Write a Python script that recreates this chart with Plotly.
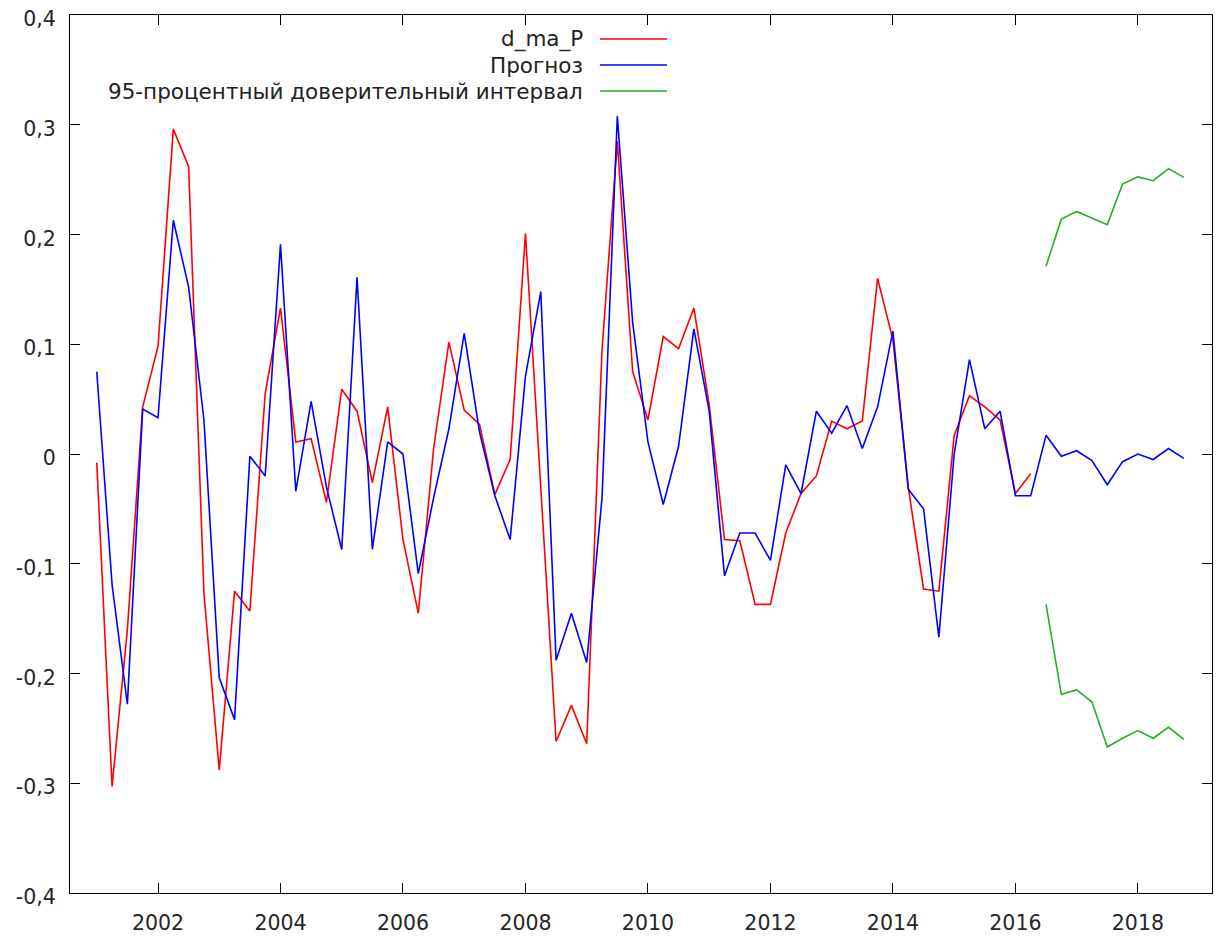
import plotly.graph_objects as go

# ---- data (quarterly, starting 2001:1) ----
start_year = 2001
n_quarters = 72
periods = [start_year + q / 4 for q in range(n_quarters)]

d_ma_P = [
    -0.008, -0.303, -0.160, 0.043, 0.098, 0.296, 0.262, -0.127, -0.288, -0.125, -0.143, 0.055,
    0.133, 0.011, 0.014, -0.044, 0.059, 0.039, -0.026, 0.043, -0.078, -0.145, 0.005, 0.102,
    0.040, 0.027, -0.037, -0.005, 0.201, -0.030, -0.262, -0.229, -0.264, 0.095, 0.285, 0.075,
    0.031, 0.107, 0.096, 0.133, 0.045, -0.078, -0.079, -0.137, -0.137, -0.072, -0.036, -0.020,
    0.030, 0.023, 0.030, 0.160, 0.104, -0.030, -0.123, -0.125, 0.017, 0.053, 0.043, 0.031,
    -0.036, -0.018,
]

prognoz = [
    0.075, -0.119, -0.228, 0.041, 0.033, 0.213, 0.152, 0.031, -0.204, -0.242, -0.002, -0.020,
    0.191, -0.034, 0.048, -0.030, -0.087, 0.161, -0.087, 0.011, 0.000, -0.109, -0.040, 0.023,
    0.110, 0.020, -0.038, -0.078, 0.071, 0.148, -0.188, -0.145, -0.190, -0.040, 0.308, 0.120,
    0.011, -0.046, 0.007, 0.114, 0.039, -0.111, -0.072, -0.072, -0.097, -0.010, -0.036, 0.039,
    0.019, 0.044, 0.005, 0.043, 0.112, -0.032, -0.050, -0.167, 0.000, 0.086, 0.023, 0.039,
    -0.038, -0.038, 0.017, -0.002, 0.003, -0.006, -0.028, -0.007, 0.000, -0.005, 0.005, -0.004,
]

ci_start = 62  # 2016:3
ci_upper = [0.171, 0.214, 0.221, 0.215, 0.209, 0.246, 0.2525, 0.249, 0.260, 0.252]
ci_lower = [-0.137, -0.219, -0.215, -0.226, -0.267, -0.259, -0.252, -0.259, -0.249, -0.260]

y_tickvals = [0.4, 0.3, 0.2, 0.1, 0.0, -0.1, -0.2, -0.3, -0.4]
y_ticktext = ["0,4", "0,3", "0,2", "0,1", "0", "-0,1", "-0,2", "-0,3", "-0,4"]
x_tickvals = [2002, 2004, 2006, 2008, 2010, 2012, 2014, 2016, 2018]
x_ticktext = [str(v) for v in x_tickvals]

legend_names = ["d_ma_P", "Прогноз", "95-процентный доверительный интервал"]

RED = "#ff0000"
BLUE = "#0000ff"
GREEN = "#22b022"
FONT = "DejaVu Sans"

fig = go.Figure()
fig.add_trace(go.Scatter(x=periods[:len(d_ma_P)], y=d_ma_P, mode="lines",
                         line=dict(color=RED, width=1.6), name=legend_names[0], showlegend=False))
fig.add_trace(go.Scatter(x=periods[:len(prognoz)], y=prognoz, mode="lines",
                         line=dict(color=BLUE, width=1.6), name=legend_names[1], showlegend=False))
ci_x = periods[ci_start:ci_start + len(ci_upper)]
fig.add_trace(go.Scatter(x=ci_x, y=ci_upper, mode="lines",
                         line=dict(color=GREEN, width=1.6), name=legend_names[2], showlegend=False))
fig.add_trace(go.Scatter(x=ci_x, y=ci_lower, mode="lines",
                         line=dict(color=GREEN, width=1.6), name=legend_names[2], showlegend=False))

# custom gnuplot-style legend: right-aligned text, sample line to the right
legend_colors = [RED, BLUE, GREEN]
legend_y = [0.9727, 0.943, 0.9134]
for name, col, yy in zip(legend_names, legend_colors, legend_y):
    fig.add_annotation(x=0.451, y=yy, xref="paper", yref="paper", text=name,
                       showarrow=False, xanchor="right", yanchor="middle",
                       font=dict(family=FONT, size=21.5, color="#222222"))
    fig.add_shape(type="line", xref="paper", yref="paper", x0=0.464, x1=0.5228,
                  y0=yy, y1=yy, line=dict(color=col, width=1.6))

axis_common = dict(showgrid=False, zeroline=False, showline=True, linecolor="black",
                   linewidth=1.2, mirror="allticks", ticks="inside", ticklen=10,
                   tickcolor="black", tickwidth=1.2, automargin=False,
                   ticklabeloverflow="allow",
                   tickfont=dict(family=FONT, size=20.5, color="#262626"))

fig.update_xaxes(range=[2000.563, 2019.21], tickvals=x_tickvals, ticktext=x_ticktext,
                 ticklabelstandoff=11, **axis_common)
fig.update_yaxes(range=[-0.4, 0.4], tickvals=y_tickvals, ticktext=y_ticktext,
                 ticklabelstandoff=9, ticklabelshift=4, **axis_common)

# page body adds an 8px margin, so the figure is offset accordingly
fig.update_layout(width=1215, height=930, margin=dict(l=62, r=11, t=7, b=45),
                  plot_bgcolor="white", paper_bgcolor="white", showlegend=False,
                  font=dict(family=FONT))

fig.write_html("out.html")
